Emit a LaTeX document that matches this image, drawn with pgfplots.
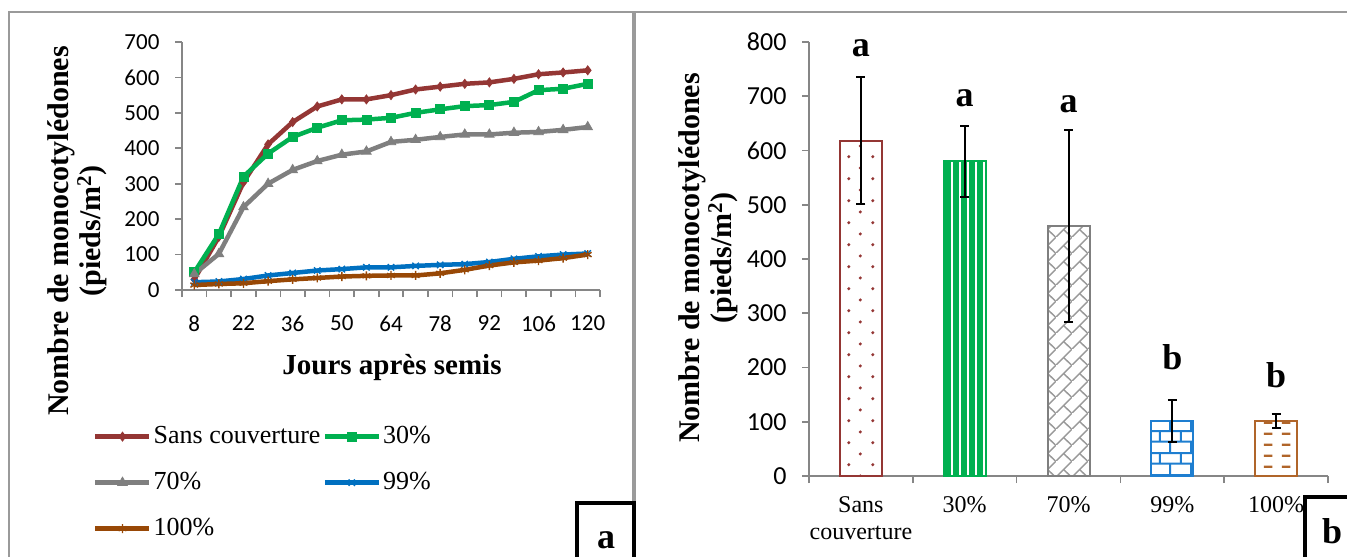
\documentclass[border=0pt]{standalone}
\usepackage{pgfplots}
\pgfplotsset{compat=1.18}
\usetikzlibrary{patterns.meta}
\usepackage{fontspec}
\setmainfont{Liberation Serif}
\newfontfamily\carlito{Carlito}

\definecolor{cred}{HTML}{943634}
\definecolor{cgreen}{HTML}{00B050}
\definecolor{cgray}{HTML}{7F7F7F}
\definecolor{cblue}{HTML}{0070C0}
\definecolor{cbrown}{HTML}{984806}
\definecolor{barbrown}{HTML}{B0652A}
\definecolor{barblue}{HTML}{1E7ED0}
\definecolor{axisgray}{HTML}{868686}
\definecolor{framegray}{HTML}{9A9A9A}

\tikzdeclarepattern{
  name=reddots, type=uncolored,
  bounding box={(0pt,0pt) and (23.4pt,21.7pt)},
  tile size={(23.4pt,21.7pt)},
  code={
    \fill (5.85pt,5.4pt) circle (1.7pt);
    \fill (17.55pt,16.25pt) circle (1.7pt);
  }
}
\tikzdeclarepattern{
  name=diagbrick, type=uncolored,
  bounding box={(0pt,0pt) and (16pt,16pt)},
  tile size={(16pt,16pt)},
  code={
    \draw[line width=1.5pt] (-1pt,-1pt) -- (17pt,17pt);
    \draw[line width=1.5pt] (8pt,8pt) -- (16pt,0pt);
  }
}
\tikzdeclarepattern{
  name=bricks, type=uncolored,
  bounding box={(0pt,0pt) and (21pt,22pt)},
  tile size={(21pt,22pt)},
  code={
    \draw[line width=2pt] (-1pt,5.5pt) -- (22pt,5.5pt);
    \draw[line width=2pt] (-1pt,16.5pt) -- (22pt,16.5pt);
    \draw[line width=2pt] (5pt,5.5pt) -- (5pt,16.5pt);
    \draw[line width=2pt] (15.5pt,16.5pt) -- (15.5pt,23pt);
    \draw[line width=2pt] (15.5pt,-1pt) -- (15.5pt,5.5pt);
  }
}
\tikzdeclarepattern{
  name=dashes, type=uncolored,
  bounding box={(0pt,0pt) and (18pt,10.7pt)},
  tile size={(18pt,10.7pt)},
  code={
    \draw[line width=2.4pt] (4pt,5.35pt) -- (13pt,5.35pt);
  }
}

\begin{document}
\begin{tikzpicture}[x=1pt,y=1pt]
\useasboundingbox (0,0) rectangle (1347,557);
% panel frames
\draw[framegray, line width=2pt] (9,-5) -- (9,545) -- (1352,545);
\draw[framegray, line width=3.5pt] (634,-5) -- (634,545);

% ---------------- Left: line chart ----------------
\begin{axis}[
  at={(182pt,267pt)}, anchor=south west,
  scale only axis, width=418pt, height=248pt,
  xmin=4.5, xmax=123.5, ymin=0, ymax=700,
  axis x line*=bottom, axis y line*=left,
  axis line style={axisgray, line width=1.6pt},
  tick style={axisgray, line width=1.6pt},
  tick align=outside, major tick length=7pt,
  xtick={4.5,11.5,...,123.5}, xticklabels={},
  extra x ticks={8,22,36,50,64,78,92,106,120},
  extra x tick labels={8,22,36,50,64,78,92,106,120},
  extra x tick style={major tick length=0pt},
  x tick label style={yshift=-22pt},
  y tick label style={xshift=-12pt},
  ytick={0,100,...,700},
  /pgf/number format/assume math mode=true,
  tick label style={font=\carlito\fontsize{23}{23}\selectfont},
  legend columns=2,
  legend cell align=left,
  legend style={at={(axis description cs:-0.22,-0.53)}, anchor=north west,
    draw=none, fill=none, font=\fontsize{26}{26}\selectfont,
    row sep=20pt, column sep=0pt,
    nodes={inner sep=2pt, text height=18pt, text depth=4pt}},
  legend image code/.code={\draw[#1, mark repeat=2, mark phase=2] plot coordinates {(0pt,0pt) (27pt,0pt) (54pt,0pt)};},
]
\addplot[color=cred, line width=4.5pt, mark=diamond*, mark size=4.5pt, mark options={line width=0.8pt}] coordinates {
(8,30) (15,150) (22,304) (29,411) (36,474) (43,518) (50,538) (57,538) (64,550) (71,566) (78,574) (85,582) (92,586) (99,596) (106,609) (113,614) (120,620)};
\addlegendentry{Sans couverture}
\addplot[color=cgreen, line width=4.5pt, mark=square*, mark size=4.5pt, mark options={line width=0.8pt}] coordinates {
(8,50) (15,158) (22,320) (29,385) (36,432) (43,458) (50,479) (57,481) (64,486) (71,500) (78,510) (85,519) (92,522) (99,531) (106,564) (113,568) (120,582)};
\addlegendentry{30\%}
\addplot[color=cgray, line width=4.5pt, mark=triangle*, mark size=5.5pt, mark options={line width=0.8pt}] coordinates {
(8,45) (15,102) (22,234) (29,300) (36,339) (43,364) (50,382) (57,391) (64,418) (71,424) (78,432) (85,439) (92,439) (99,444) (106,446) (113,452) (120,460)};
\addlegendentry{70\%}
\addplot[color=cblue, line width=4.5pt, mark=x, mark size=4.5pt, mark options={line width=1.4pt}] coordinates {
(8,22) (15,24) (22,31) (29,41) (36,48) (43,55) (50,59) (57,64) (64,64) (71,68) (78,71) (85,73) (92,79) (99,88) (106,95) (113,100) (120,103)};
\addlegendentry{99\%}
\addplot[color=cbrown, line width=4.5pt, mark=asterisk, mark size=4.5pt, mark options={line width=1.4pt}] coordinates {
(8,14) (15,17) (22,19) (29,25) (36,30) (43,34) (50,38) (57,40) (64,41) (71,41) (78,47) (85,57) (92,69) (99,78) (106,83) (113,90) (120,100)};
\addlegendentry{100\%}
\end{axis}

\node[rotate=90, align=center, font=\bfseries\fontsize{30}{32}\selectfont, inner sep=0pt] at (77,326) {Nombre de monocotylédones\\(pieds/m\textsuperscript{2})};
\node[anchor=base, font=\bfseries\fontsize{29}{29}\selectfont, inner sep=0pt] at (392,182) {Jours après semis};

% ---------------- Right: bar chart ----------------
\begin{axis}[
  at={(809pt,81pt)}, anchor=south west,
  scale only axis, width=519pt, height=434pt,
  xmin=-0.5, xmax=4.5, ymin=0, ymax=800, clip=false,
  axis x line*=bottom, axis y line*=left,
  axis line style={axisgray, line width=1.6pt},
  tick style={axisgray, line width=1.6pt},
  tick align=outside, major tick length=7pt,
  xtick={-0.5,0.5,...,4.5}, xticklabels={},
  extra x ticks={0,1,2,3,4},
  extra x tick labels={Sans\\couverture,30\%,70\%,99\%,100\%},
  extra x tick style={major tick length=0pt},
  x tick label style={align=center, font=\fontsize{24}{27}\selectfont, yshift=-17pt},
  ytick={0,100,...,800},
  /pgf/number format/assume math mode=true,
  y tick label style={font=\carlito\fontsize{26}{26}\selectfont, xshift=-12pt},
  ybar, bar width=42pt,
  error bars/y dir=both, error bars/y explicit,
  error bars/error bar style={black, line width=2pt},
  error bars/error mark options={black, line width=2pt, mark size=4.5pt, rotate=90},
]
\addplot[bar shift=0pt, draw=cred, line width=2pt, fill=white, postaction={pattern=reddots, pattern color=cred}] coordinates {(0,618) +- (0,117)};
\addplot[bar shift=0pt, draw=cgreen, line width=2pt, fill=cgreen, postaction={pattern={Lines[angle=90,distance=8pt,line width=2.5pt]}, pattern color=white}] coordinates {(1,580) +- (0,66)};
\addplot[bar shift=0pt, draw=cgray, line width=2pt, fill=white, postaction={pattern=diagbrick, pattern color=cgray!80}] coordinates {(2,460) +- (0,177)};
\addplot[bar shift=0pt, draw=barblue, line width=2pt, fill=white, postaction={pattern=bricks, pattern color=barblue}] coordinates {(3,102) +- (0,39)};
\addplot[bar shift=0pt, draw=barbrown, line width=2pt, fill=white, postaction={pattern=dashes, pattern color=barbrown}] coordinates {(4,101) +- (0,12.5)};
\node[anchor=base, font=\bfseries\fontsize{36}{36}\selectfont, inner sep=0pt] at (axis cs:0,773) {a};
\node[anchor=base, font=\bfseries\fontsize{36}{36}\selectfont, inner sep=0pt] at (axis cs:1,681) {a};
\node[anchor=base, font=\bfseries\fontsize{36}{36}\selectfont, inner sep=0pt] at (axis cs:2,670) {a};
\node[anchor=base, font=\bfseries\fontsize{36}{36}\selectfont, inner sep=0pt] at (axis cs:3,197) {b};
\node[anchor=base, font=\bfseries\fontsize{36}{36}\selectfont, inner sep=0pt] at (axis cs:4,164) {b};
\end{axis}

\node[rotate=90, align=center, font=\bfseries\fontsize{30}{32}\selectfont, inner sep=0pt] at (708,299) {Nombre de monocotylédones\\(pieds/m\textsuperscript{2})};

% corner boxes
\draw[black, line width=3.5pt] (577,-5) -- (577,54) -- (634,54) -- (634,-5);
\node[anchor=base, font=\bfseries\fontsize{36}{36}\selectfont, inner sep=0pt] at (606,9) {a};
\draw[black, line width=3.5pt] (1305,-5) -- (1305,60) -- (1352,60);
\node[anchor=base, font=\bfseries\fontsize{36}{36}\selectfont, inner sep=0pt] at (1332,13) {b};
\end{tikzpicture}
\end{document}
